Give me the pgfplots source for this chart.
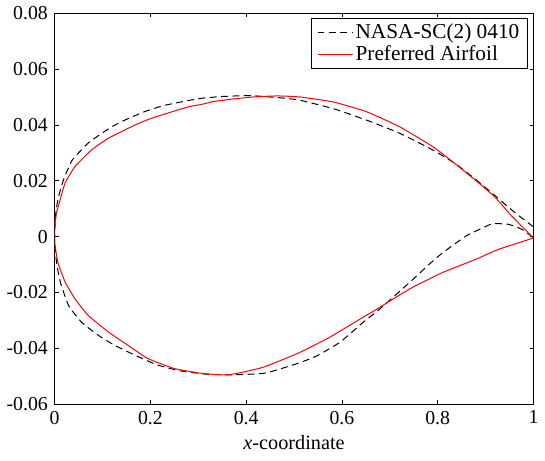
\documentclass[border=0pt]{standalone}
\usepackage{fontspec}
\setmainfont{Liberation Serif}
\usepackage{pgfplots}
\pgfplotsset{compat=1.18}
\begin{document}%
\fontsize{20bp}{24bp}\selectfont%
\begin{tikzpicture}
\begin{axis}[
  scale only axis,
  width=484bp, height=395bp,
  xmin=0, xmax=1, ymin=-0.06, ymax=0.08,
  xtick={0,0.2,0.4,0.6,0.8,1},
  ytick={-0.06,-0.04,-0.02,0,0.02,0.04,0.06,0.08},
  scaled x ticks=false, scaled y ticks=false,
  xticklabel={\pgfmathprintnumber[assume math mode=true,fixed,precision=1]{\tick}},
  yticklabel={\pgfmathprintnumber[assume math mode=true,fixed,precision=2]{\tick}},
  every tick label/.append style={font=\fontsize{20bp}{24bp}\rmfamily\selectfont},
  tick align=inside,
  major tick length=4bp,
  tick style={black, line width=0.8bp},
  axis line style={line width=1.2bp},
  xlabel={\textit{x}-coordinate},
  xlabel style={yshift=2bp, font=\fontsize{20.5bp}{24bp}\rmfamily\selectfont},
  legend style={at={(0.988,0.987)}, anchor=north east, draw=black, line width=1bp,
    font=\fontsize{21.5bp}{25bp}\rmfamily\selectfont, inner xsep=6bp, inner ysep=3bp, row sep=0bp},
  legend cell align=left,
  legend image code/.code={\draw[#1, line width=1bp] (0bp,0bp) -- (36bp,0bp);},
]
\addplot[black, line width=1bp, dash pattern=on 7bp off 4.5bp, smooth, tension=0.3] coordinates {
(1.0,0.0035) (0.962,0.0085) (0.921,0.0145) (0.880,0.0204) (0.838,0.0260) (0.790,0.0310)
(0.721,0.0370) (0.652,0.0417) (0.583,0.0458) (0.514,0.0488) (0.48,0.0496) (0.41,0.0505)
(0.35,0.0502) (0.30,0.0494) (0.229,0.0470) (0.187,0.0447) (0.15,0.0420) (0.125,0.0399)
(0.10,0.0372) (0.07,0.0335) (0.05,0.0300) (0.036,0.0272) (0.02,0.0210) (0.01,0.0155)
(0.005,0.0115) (0.002,0.0075) (0,0)
(0.002,-0.0060) (0.005,-0.0104) (0.012,-0.0163) (0.029,-0.0246) (0.056,-0.0306)
(0.091,-0.0353) (0.125,-0.0389) (0.167,-0.0424) (0.215,-0.0460) (0.263,-0.0481)
(0.318,-0.0493) (0.37,-0.0495) (0.439,-0.0489) (0.508,-0.0454) (0.549,-0.0426)
(0.597,-0.0377) (0.645,-0.0306) (0.680,-0.0258) (0.742,-0.0163) (0.783,-0.0098)
(0.811,-0.0057) (0.859,0.0002) (0.885,0.0024) (0.914,0.0046) (0.948,0.0044)
(0.976,0.0026) (1.0,-0.0004)
};
\addlegendentry{NASA-SC(2) 0410}
\addplot[red, line width=1bp, smooth, tension=0.3] coordinates {
(1.0,-0.0005) (0.955,0.0073) (0.921,0.0139) (0.886,0.0192) (0.835,0.0263) (0.790,0.0322)
(0.721,0.0393) (0.652,0.0447) (0.583,0.0482) (0.514,0.0500) (0.466,0.0504)
(0.42,0.0501) (0.377,0.0494) (0.332,0.0484) (0.308,0.0474) (0.277,0.0464) (0.201,0.0423)
(0.167,0.0399) (0.112,0.0352) (0.077,0.0310) (0.0427,0.0251) (0.022,0.0192) (0.0118,0.0133)
(0.004,0.0085) (0.0005,0.0038) (0,0)
(0.0005,-0.0024) (0.0068,-0.0092) (0.0221,-0.0163) (0.0427,-0.0223) (0.070,-0.0282)
(0.112,-0.0341) (0.153,-0.0389) (0.194,-0.0436) (0.249,-0.0472) (0.304,-0.0489)
(0.346,-0.0495) (0.37,-0.0493) (0.40,-0.0483) (0.439,-0.0466) (0.508,-0.0418)
(0.576,-0.0359) (0.645,-0.0288) (0.669,-0.0264) (0.742,-0.0187) (0.811,-0.0128)
(0.880,-0.0081) (0.928,-0.0045) (1.0,-0.0005)
};
\addlegendentry{Preferred Airfoil}
\end{axis}
\path ([shift={(-51bp,-57bp)}]current axis.south west) rectangle ([shift={(10bp,9bp)}]current axis.north east);
\end{tikzpicture}%
\end{document}
